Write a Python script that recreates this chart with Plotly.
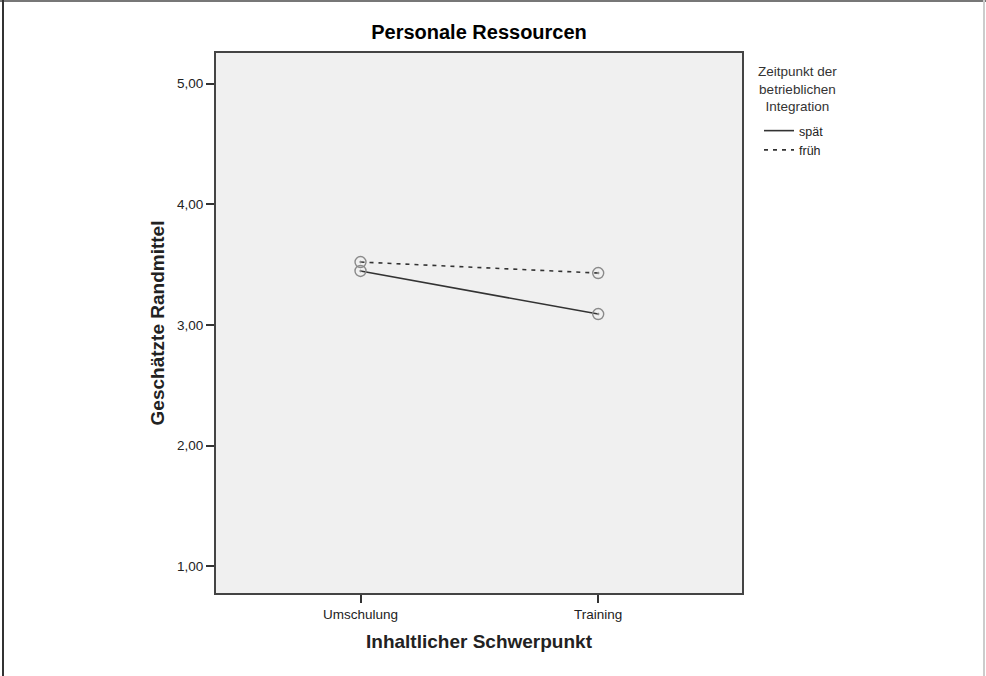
import plotly.graph_objects as go

# Data
categories = ["Umschulung", "Training"]
spaet = [3.447, 3.090]
frueh = [3.521, 3.430]
y_ticks = [1, 2, 3, 4, 5]
y_tick_labels = ["1,00", "2,00", "3,00", "4,00", "5,00"]
legend_title = ["Zeitpunkt der", "betrieblichen", "Integration"]

FONT = "Liberation Sans, Arial, sans-serif"
W, H = 986, 676
L, R, T, B = 216, 244, 53, 83

MARKER = dict(symbol="circle-dot", size=11, color="rgba(0,0,0,0)",
              line=dict(color="#8a8a8a", width=1.4))

fig = go.Figure()
# lines (shown in legend)
fig.add_trace(go.Scatter(
    x=[0, 1], y=spaet, name="spät", mode="lines",
    line=dict(color="#333333", width=1.6),
))
fig.add_trace(go.Scatter(
    x=[0, 1], y=frueh, name="früh", mode="lines",
    line=dict(color="#333333", width=1.6, dash="4px,5px"),
))
# markers (not in legend)
fig.add_trace(go.Scatter(x=[0, 1], y=spaet, mode="markers", marker=MARKER,
                         showlegend=False, hoverinfo="skip"))
fig.add_trace(go.Scatter(x=[0, 1], y=frueh, mode="markers", marker=MARKER,
                         showlegend=False, hoverinfo="skip"))

pw = W - L - R
ph = H - T - B
def px_x(p):
    return (p - L) / pw
def px_y(p):
    return (H - B - p) / ph

fig.update_layout(
    width=W, height=H,
    margin=dict(l=L, r=R, t=T, b=B, pad=0),
    paper_bgcolor="white", plot_bgcolor="#f0f0f0",
    font=dict(family=FONT, size=12, color="#222222"),
    title=dict(text="<b>Personale Ressourcen</b>", x=(L + (W - R)) / 2 / W,
               xanchor="center", y=1 - 32 / H, yanchor="middle",
               font=dict(size=20, color="black")),
    showlegend=True,
    legend=dict(
        x=px_x(759), xanchor="left", y=px_y(116), yanchor="top",
        font=dict(size=12.5, color="#222222"),
        bgcolor="rgba(0,0,0,0)", itemwidth=30, tracegroupgap=0,
    ),
)
fig.add_annotation(
    text="<br>".join(legend_title), align="center",
    xref="paper", yref="paper", x=px_x(797), y=px_y(63),
    xanchor="center", yanchor="top", showarrow=False, borderpad=0,
    font=dict(size=13.5, color="#333333"),
)

fig.update_xaxes(
    range=[-0.608, 1.605], tickvals=[0, 1], ticktext=categories,
    ticks="outside", ticklen=8, tickwidth=1.5, tickcolor="#333333",
    showgrid=False, zeroline=False,
    showline=True, linecolor="#444444", linewidth=2, mirror=True,
    tickfont=dict(size=13.5, color="#222222"),
    title=dict(text="<b>Inhaltlicher Schwerpunkt</b>", standoff=13,
               font=dict(size=19, color="#222222")),
)
fig.update_yaxes(
    range=[0.779, 5.253], tickvals=y_ticks, ticktext=y_tick_labels,
    ticks="outside", ticklen=8, tickwidth=1.5, tickcolor="#333333",
    showgrid=False, zeroline=False,
    showline=True, linecolor="#444444", linewidth=2, mirror=True,
    tickfont=dict(size=13.5, color="#222222"),
    title=dict(text="<b>Geschätzte Randmittel</b>", standoff=7,
               font=dict(size=19, color="#222222")),
)

# outer frame of the exported image
fig.add_shape(type="line", xref="paper", yref="paper",
              x0=px_x(0), x1=px_x(W), y0=px_y(1), y1=px_y(1),
              line=dict(color="#777777", width=2))
fig.add_shape(type="line", xref="paper", yref="paper",
              x0=px_x(3), x1=px_x(3), y0=px_y(0), y1=px_y(H),
              line=dict(color="#333333", width=2))
fig.add_shape(type="line", xref="paper", yref="paper",
              x0=px_x(984), x1=px_x(984), y0=px_y(0), y1=px_y(H),
              line=dict(color="#cccccc", width=2))

fig.write_html("out.html", config={"displayModeBar": False},
               post_script="document.body.style.margin='0';")
